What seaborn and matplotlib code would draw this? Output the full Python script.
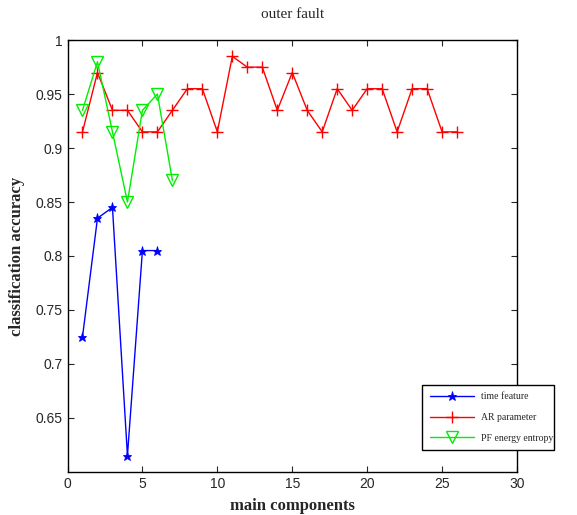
import matplotlib
matplotlib.use("Agg")
import matplotlib.pyplot as plt
import seaborn as sns
import pandas as pd

# values
time_x = [1, 2, 3, 4, 5, 6]
time_acc = [0.725, 0.835, 0.845, 0.615, 0.805, 0.805]

ar_x = list(range(1, 27))
ar_acc = [0.915, 0.97, 0.935, 0.935, 0.915, 0.915, 0.935, 0.955, 0.955, 0.915,
          0.985, 0.975, 0.975, 0.935, 0.97, 0.935, 0.915, 0.955, 0.935, 0.955,
          0.955, 0.915, 0.955, 0.955, 0.915, 0.915]

pf_x = [1, 2, 3, 4, 5, 6, 7]
pf_acc = [0.935, 0.98, 0.915, 0.85, 0.935, 0.95, 0.87]

sns.set_style("ticks")
plt.rcParams['font.family'] = ['Liberation Serif', 'DejaVu Serif']

fig = plt.figure(figsize=(5.77, 5.15), dpi=100)
ax = fig.add_axes([0.117, 0.084, 0.779, 0.838])

sns.lineplot(x=time_x, y=time_acc, ax=ax, color='blue', marker='*', markersize=6.5,
             markeredgecolor='blue', markeredgewidth=0.6, linewidth=1, label='time feature')
sns.lineplot(x=ar_x, y=ar_acc, ax=ax, color='red', marker='+', markersize=8.5,
             markeredgecolor='red', markeredgewidth=1, linewidth=1, label='AR parameter')
sns.lineplot(x=pf_x, y=pf_acc, ax=ax, color='#00ee00', marker='v', markersize=8,
             markerfacecolor='none', markeredgecolor='#00ee00', markeredgewidth=1,
             linewidth=1, label='PF energy entropy')

ax.set_xlim(0, 30)
ax.set_ylim(0.6, 1.0)
ax.set_xticks([0, 5, 10, 15, 20, 25, 30])
ax.set_yticks([0.65, 0.7, 0.75, 0.8, 0.85, 0.9, 0.95, 1.0])
ax.set_yticklabels(['0.65', '0.7', '0.75', '0.8', '0.85', '0.9', '0.95', '1'])
ax.tick_params(direction='in', top=True, right=True, length=4, labelsize=10)
for lab in ax.get_xticklabels() + ax.get_yticklabels():
    lab.set_family('Liberation Sans')
for s in ax.spines.values():
    s.set_visible(True)
    s.set_linewidth(1)
    s.set_color('black')

ax.set_title('outer fault', fontsize=11, pad=16)
ax.set_xlabel('main components', fontsize=12, fontweight='bold', labelpad=5)
ax.set_ylabel('classification accuracy', fontsize=12, fontweight='bold', labelpad=8)

leg = ax.legend(loc='lower left', bbox_to_anchor=(0.723, 0.116, 0.245, 0.148),
                bbox_transform=fig.transFigure, mode='expand', fontsize=7,
                frameon=True, fancybox=False, edgecolor='black', framealpha=1,
                handlelength=4.5, borderpad=0.8, labelspacing=1.2)
leg.get_frame().set_linewidth(1)

fig.savefig('out.png', dpi=100)
